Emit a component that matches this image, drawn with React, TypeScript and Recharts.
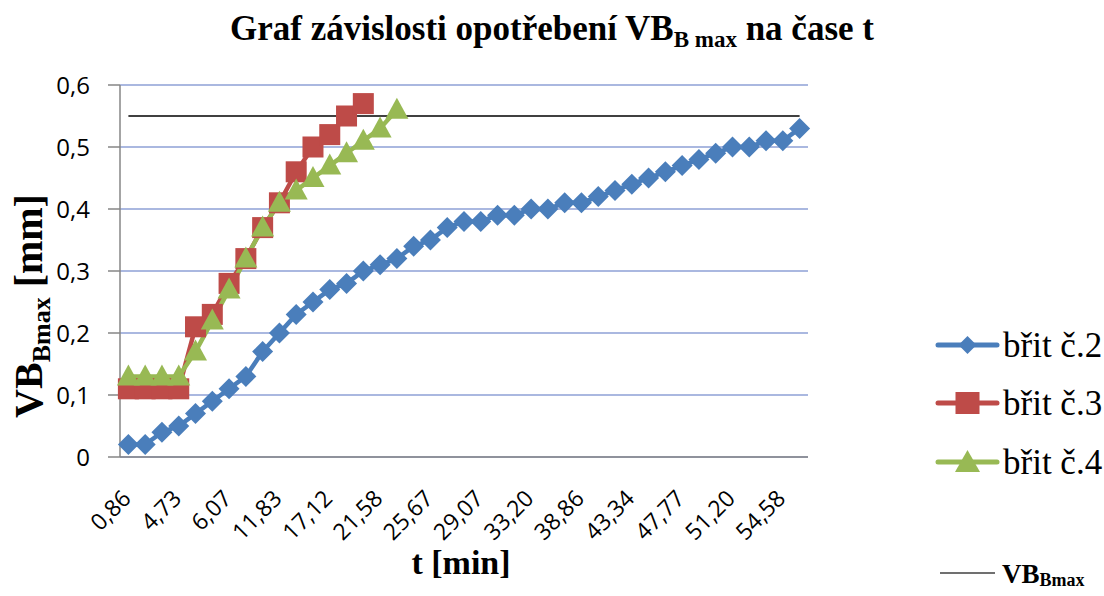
import React from 'react';
import { LineChart, Line, XAxis, YAxis, CartesianGrid, Legend, ReferenceLine } from 'recharts';

// time t [min] for each measurement (every third one is labelled)
const times = [
  '0,86', '2,11', '3,40', '4,73', '5,15', '5,64', '6,07', '7,95', '9,88', '11,83',
  '13,60', '15,31', '17,12', '18,55', '20,10', '21,58', '22,97', '24,30', '25,67', '26,82',
  '27,90', '29,07', '30,41', '31,85', '33,20', '35,12', '36,95', '38,86', '40,30', '41,88',
  '43,34', '44,80', '46,31', '47,77', '48,90', '50,08', '51,20', '52,35', '53,44', '54,58',
  '55,70',
];

const brit2 = [
  0.02, 0.02, 0.04, 0.05, 0.07, 0.09, 0.11, 0.13, 0.17, 0.20,
  0.23, 0.25, 0.27, 0.28, 0.30, 0.31, 0.32, 0.34, 0.35, 0.37,
  0.38, 0.38, 0.39, 0.39, 0.40, 0.40, 0.41, 0.41, 0.42, 0.43,
  0.44, 0.45, 0.46, 0.47, 0.48, 0.49, 0.50, 0.50, 0.51, 0.51,
  0.53,
];

const brit3 = [
  0.11, 0.11, 0.11, 0.11, 0.21, 0.23, 0.28, 0.32, 0.37, 0.41,
  0.46, 0.50, 0.52, 0.55, 0.57,
];

const brit4 = [
  0.13, 0.13, 0.13, 0.13, 0.17, 0.22, 0.27, 0.32, 0.37, 0.41,
  0.43, 0.45, 0.47, 0.49, 0.51, 0.53, 0.56,
];

const VB_MAX = 0.55;
const yTicks = [0, 0.1, 0.2, 0.3, 0.4, 0.5, 0.6];

const BLUE = '#4A7EBB';
const RED = '#BE4B48';
const GREEN = '#98B954';
const AXIS = '#868686';
const GRID = '#8EA0D6';
const SERIF = '"Liberation Serif", "Times New Roman", serif';
const SANS = '"Open Sans", "Noto Sans", sans-serif';

const data = times.map((t, i) => ({
  t,
  b2: i < brit2.length ? brit2[i] : null,
  b3: i < brit3.length ? brit3[i] : null,
  b4: i < brit4.length ? brit4[i] : null,
}));

const isBad = (p: any) => p.cx == null || p.cy == null || p.value == null || (Array.isArray(p.value) && p.value[1] == null);

const DiamondDot = (p: any) => {
  if (isBad(p)) return <g key={p.index} />;
  const { cx, cy } = p;
  const r = 10.5;
  return <path key={p.index} d={`M${cx},${cy - r}L${cx + r},${cy}L${cx},${cy + r}L${cx - r},${cy}Z`} fill={BLUE} />;
};

const SquareDot = (p: any) => {
  if (isBad(p)) return <g key={p.index} />;
  const { cx, cy } = p;
  const h = 10.5;
  return <rect key={p.index} x={cx - h} y={cy - h} width={2 * h} height={2 * h} fill={RED} />;
};

const TriangleDot = (p: any) => {
  if (isBad(p)) return <g key={p.index} />;
  const { cx, cy } = p;
  return <path key={p.index} d={`M${cx},${cy - 12}L${cx + 11.5},${cy + 9}L${cx - 11.5},${cy + 9}Z`} fill={GREEN} />;
};

const XTick = (props: any) => {
  const { x, y, payload } = props;
  const ax = x + 4;
  const ay = y + 35;
  return (
    <text x={ax} y={ay} transform={`rotate(-45 ${ax} ${ay})`} textAnchor="end" fontFamily={SANS} fontSize={23} fill="#000">
      {payload.value}
    </text>
  );
};

const fmtY = (v: number) => (v === 0 ? '0' : v.toFixed(1).replace('.', ','));

const YLabel = () => {
  const x = 42;
  const y = 306;
  return (
    <text x={x} y={y} transform={`rotate(-90 ${x} ${y})`} textAnchor="middle" fontFamily={SERIF} fontWeight="bold" fontSize={40} fill="#000">
      <tspan>VB</tspan>
      <tspan fontSize={26} dy={8}>Bmax</tspan>
      <tspan dy={-8}> [mm]</tspan>
    </text>
  );
};

const markerFor = (key: string, cx: number, cy: number) => {
  if (key === 'b2') {
    const r = 9;
    return <path d={`M${cx},${cy - r}L${cx + r},${cy}L${cx},${cy + r}L${cx - r},${cy}Z`} fill={BLUE} />;
  }
  if (key === 'b3') {
    return <rect x={cx - 12} y={cy - 11} width={24} height={22} fill={RED} />;
  }
  return <path d={`M${cx},${cy - 12}L${cx + 12.5},${cy + 10}L${cx - 12.5},${cy + 10}Z`} fill={GREEN} />;
};

const LegendContent = (props: any) => {
  const payload = (props.payload || []).filter((e: any) => e.dataKey === 'b2' || e.dataKey === 'b3' || e.dataKey === 'b4');
  const ys = [20, 78, 137];
  return (
    <svg width={174} height={271} style={{ display: 'block', overflow: 'visible' }}>
      {payload.map((e: any, i: number) => {
        const parts = String(e.value).split(' ');
        return (
          <g key={e.dataKey}>
            <line x1={8} y1={ys[i]} x2={67} y2={ys[i]} stroke={e.color} strokeWidth={5} strokeLinecap="round" />
            {markerFor(e.dataKey, 37.5, ys[i])}
            <text x={73} y={ys[i] + 12} fontFamily={SERIF} fontWeight="normal" fontSize={35} fill="#000">
              <tspan>{parts[0]}</tspan>
              <tspan>{' ' + parts.slice(1).join(' ')}</tspan>
            </text>
          </g>
        );
      })}
      <g>
        <line x1={10} y1={248} x2={65} y2={248} stroke="#404040" strokeWidth={1.5} />
        <text x={72} y={258} fontFamily={SERIF} fontWeight="bold" fontSize={27} fill="#000">
          <tspan>VB</tspan>
          <tspan fontSize={18} dy={3}>Bmax</tspan>
        </text>
      </g>
    </svg>
  );
};

export default function App() {
  return (
    <div style={{ position: 'absolute', left: 0, top: 0, width: 1104, height: 596, background: '#fff' }}>
      <div style={{ position: 'absolute', left: 0, top: 0 }}>
        <LineChart width={1104} height={596} data={data} margin={{ top: 85, right: 296, bottom: 0, left: 0 }}>
          <CartesianGrid horizontal vertical={false} stroke={GRID} strokeWidth={1.5} />
          <XAxis
            dataKey="t"
            interval={2}
            tickLine={false}
            axisLine={{ stroke: AXIS, strokeWidth: 1.5 }}
            height={139}
            padding={{ left: 8.4, right: 8.4 }}
            tick={<XTick />}
          />
          <YAxis
            domain={[0, 0.6]}
            ticks={yTicks}
            width={120}
            tickSize={12}
            tickMargin={18}
            tickLine={{ stroke: AXIS, strokeWidth: 1.5 }}
            axisLine={{ stroke: AXIS, strokeWidth: 1.5 }}
            tickFormatter={fmtY}
            tick={{ fontFamily: SANS, fontSize: 24, fill: '#000' }}
            label={<YLabel />}
          />
          <Legend
            layout="vertical"
            align="center"
            verticalAlign="middle"
            wrapperStyle={{ left: 930, top: 325, width: 174, height: 271 }}
            content={<LegendContent />}
          />
          <Line type="linear" dataKey="b2" name="břit č.2" stroke={BLUE} strokeWidth={4.5} dot={DiamondDot} activeDot={false} isAnimationActive={false} connectNulls={false} />
          <Line type="linear" dataKey="b3" name="břit č.3" stroke={RED} strokeWidth={4.5} dot={SquareDot} activeDot={false} isAnimationActive={false} connectNulls={false} />
          <Line type="linear" dataKey="b4" name="břit č.4" stroke={GREEN} strokeWidth={4.5} dot={TriangleDot} activeDot={false} isAnimationActive={false} connectNulls={false} />
          <ReferenceLine
            segment={[{ x: times[0], y: VB_MAX }, { x: times[times.length - 1], y: VB_MAX }]}
            stroke="#000"
            strokeWidth={1.5}
          />
        </LineChart>
      </div>
      <svg width={1104} height={596} style={{ position: 'absolute', left: 0, top: 0, pointerEvents: 'none' }}>
        <text x={552} y={40} textAnchor="middle" fontFamily={SERIF} fontWeight="bold" fontSize={35} fill="#000">
          <tspan>Graf závislosti opotřebení VB</tspan>
          <tspan fontSize={23} dy={7}>B max</tspan>
          <tspan dy={-7}> na čase t</tspan>
        </text>
        <text x={461} y={574} textAnchor="middle" fontFamily={SERIF} fontWeight="bold" fontSize={34} fill="#000">
          <tspan>t</tspan>
          <tspan> [min]</tspan>
        </text>
      </svg>
    </div>
  );
}
